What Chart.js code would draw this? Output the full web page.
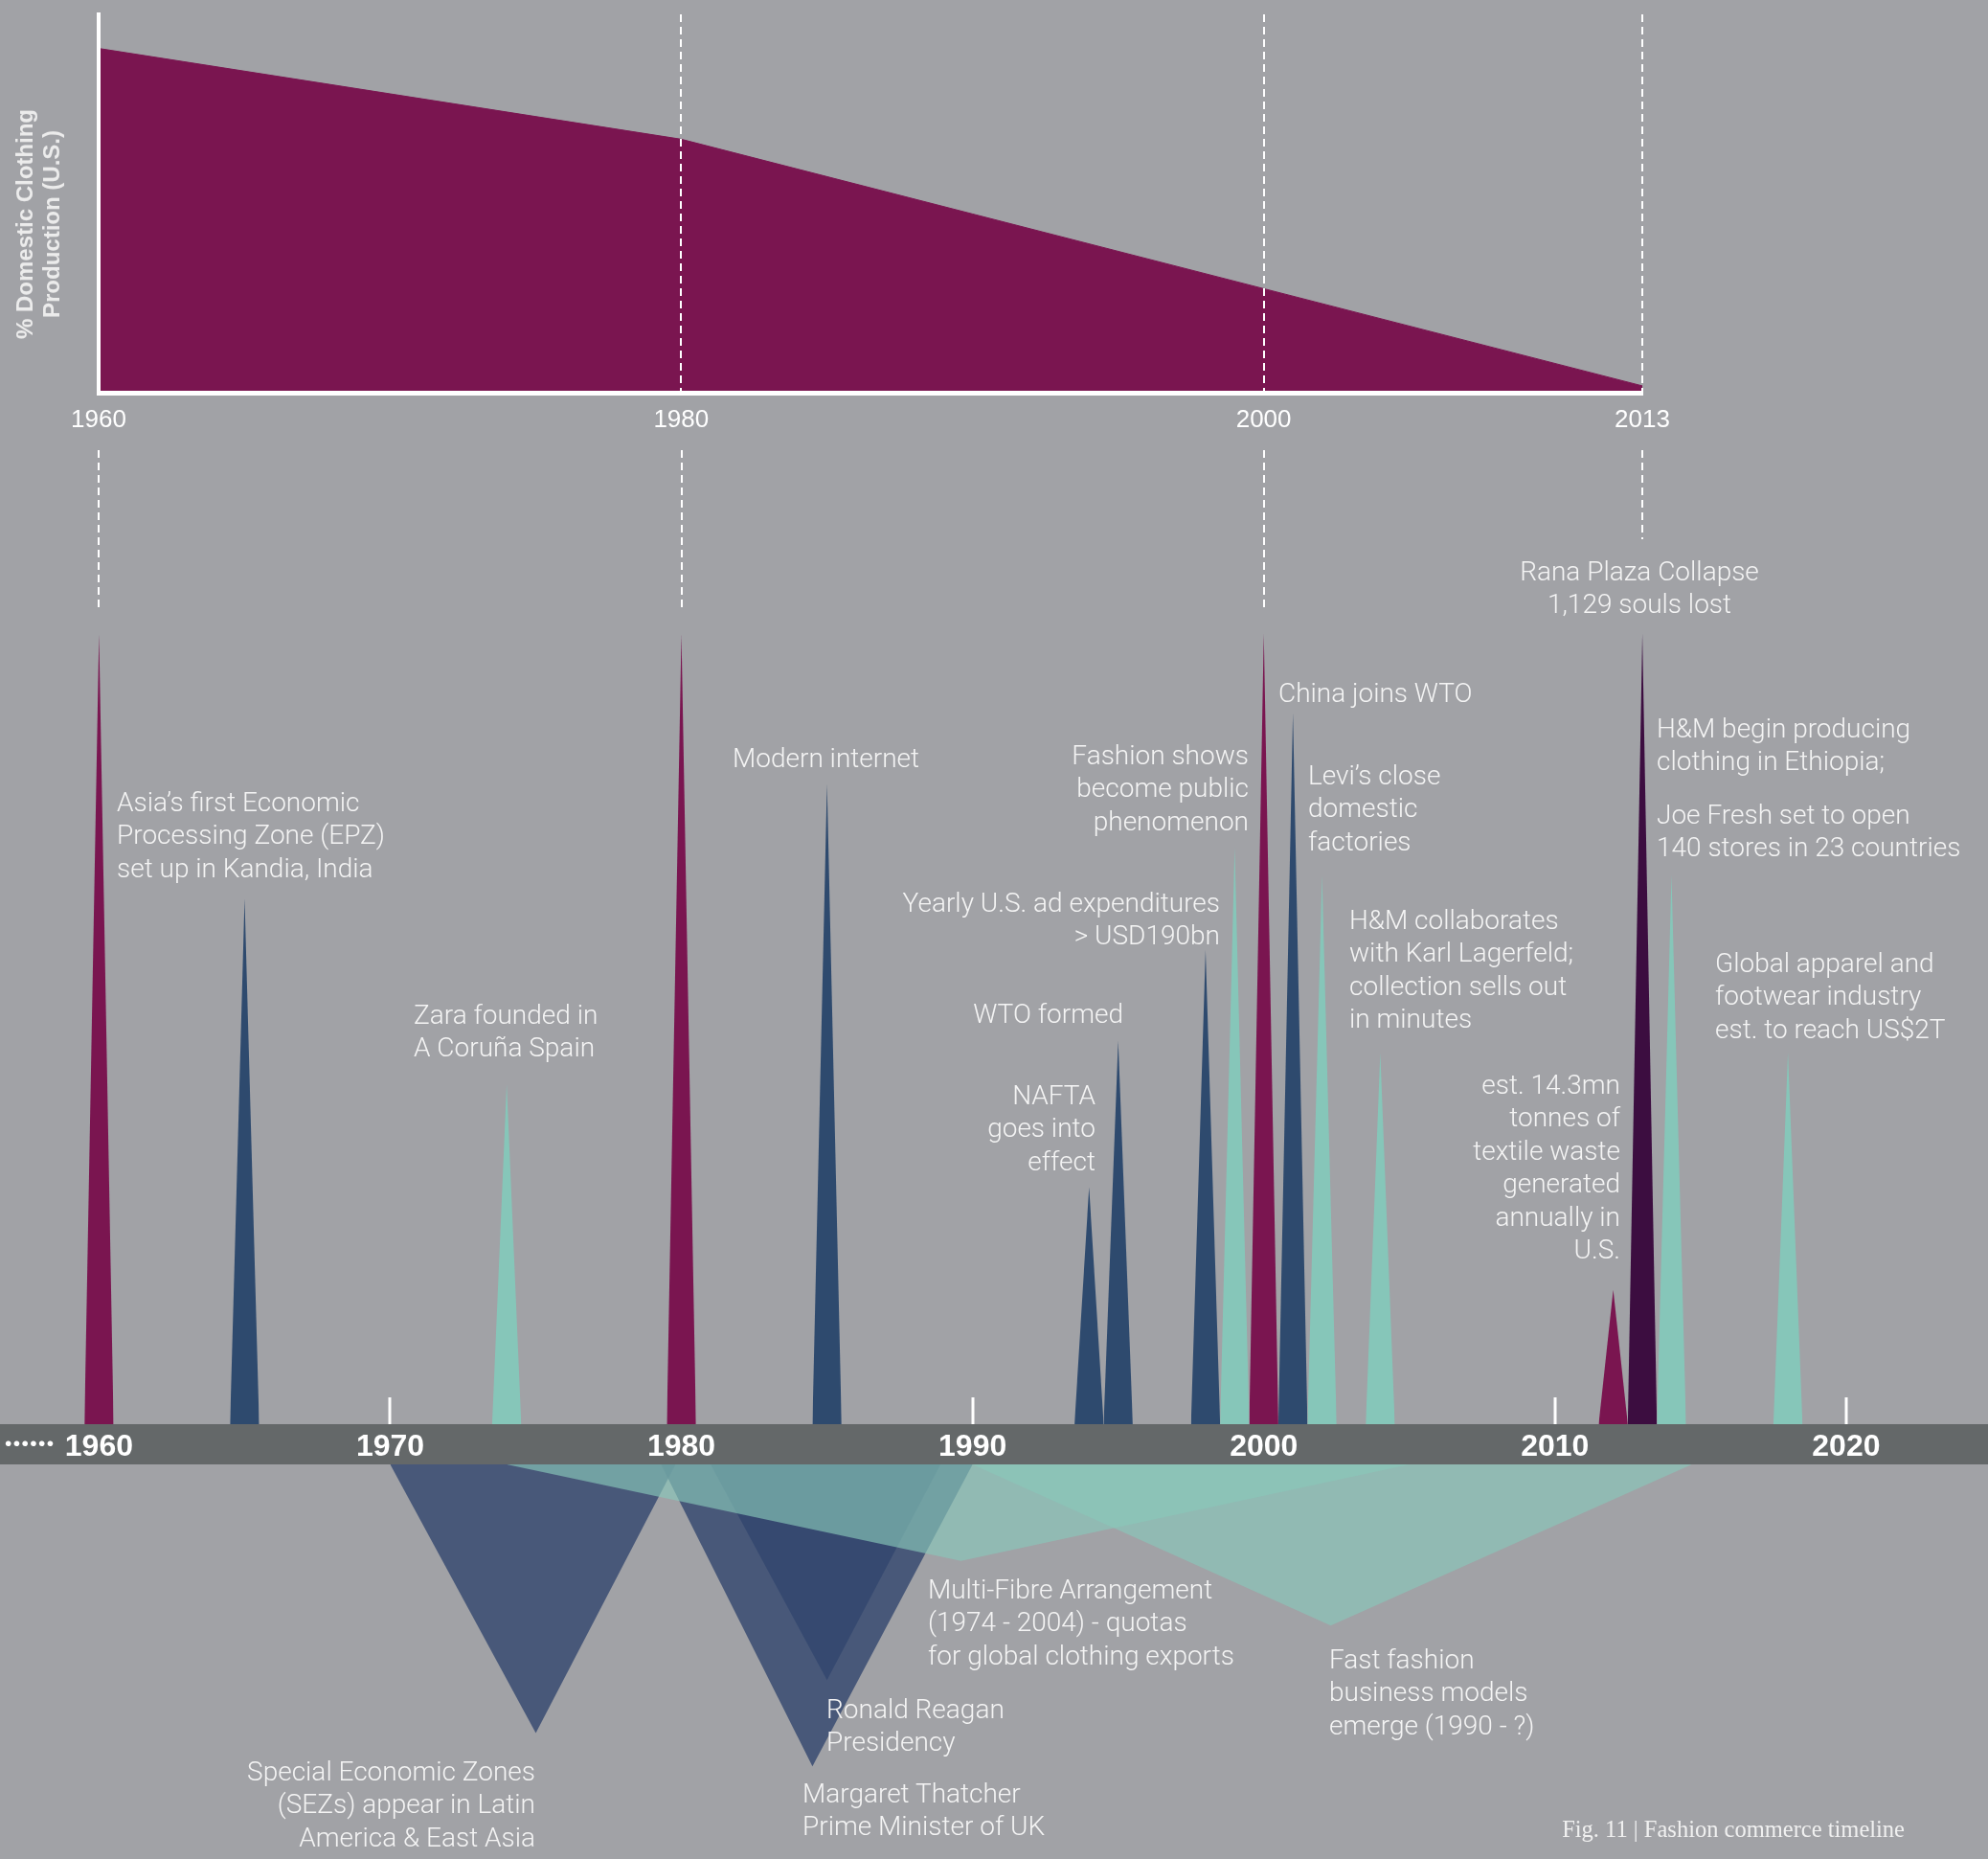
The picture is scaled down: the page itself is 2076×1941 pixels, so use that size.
<!DOCTYPE html>
<html>
<head>
<meta charset="utf-8">
<script src="https://cdn.jsdelivr.net/npm/chart.js@4.4.1/dist/chart.umd.min.js"></script>
<style>
  html,body{margin:0;padding:0;}
  body{width:2076px;height:1941px;background:#a1a2a6;position:relative;overflow:hidden;}
  .box{position:absolute;}
  .lbl{position:absolute;color:#f4f4f4;font-family:"Roboto","Liberation Sans",sans-serif;font-weight:300;font-size:28px;line-height:34.4px;white-space:nowrap;}
  #ytitle{position:absolute;left:12px;top:98px;height:272px;writing-mode:vertical-rl;transform:rotate(180deg);text-align:center;color:#ececec;font-family:"Liberation Sans",Arial,sans-serif;font-weight:bold;font-size:24px;line-height:28px;white-space:nowrap;}
  #dots{position:absolute;left:5px;top:1492px;color:#ffffff;font-family:"Liberation Sans",sans-serif;font-size:21px;letter-spacing:1.4px;line-height:30px;}
  #caption{position:absolute;right:87px;top:1895px;color:#f0f0f0;font-family:"Liberation Serif",serif;font-size:24.5px;line-height:30px;white-space:nowrap;}
</style>
</head>
<body>
<div class="box" style="left:0;top:0;width:2076px;height:470px;"><canvas id="topChart"></canvas></div>
<div class="box" style="left:0;top:470px;width:2076px;height:1471px;"><canvas id="timeline"></canvas></div>
<div id="ytitle">% Domestic Clothing<br>Production (U.S.)</div>
<div id="dots">••••••</div>
<div id="caption">Fig. 11 | Fashion commerce timeline</div>
<div id="labels"></div>
<script>
// ---------------- DATA ----------------
// Top chart: % domestic clothing production (U.S.)
const prodYears  = [1960, 1980, 2000, 2013];
const prodValues = [91, 67, 27.5, 1.8];
const topTickYears = [1960, 1980, 2000, 2013];

// Timeline events (upward spikes)
const eventYears   = [1960, 1965, 1974, 1980, 1985, 1994, 1995, 1998, 1999, 2000, 2001, 2002, 2004, 2012, 2013, 2014, 2018];
const eventHeights = [100,  66.5, 43,   100,  81,   30,   48.5, 60,   73,   100,  90,   69.5, 47,   17,   100,  69.5, 47];
const eventKinds   = ['maroon','navy','mint','maroon','navy','navy','navy','navy','mint','maroon','navy','mint','mint','maroon','purple','mint','mint'];

// Periods (downward triangles)
const periodNames = ['Special Economic Zones', 'Thatcher', 'Reagan', 'Multi-Fibre Arrangement', 'Fast fashion'];
const periodStart = [1970, 1979.3, 1981, 1974, 1990];
const periodPeak  = [1975, 1984.5, 1985, 1989.6, 2002.3];
const periodEnd   = [1979.8, 1990, 1988.9, 2005, 2014.7];
const periodDepth = [34.0, 38.2, 27.3, 12.2, 20.4];
const periodKinds = ['navy', 'navy', 'navy', 'mint', 'mint'];

const timelineTicks  = [1960, 1970, 1980, 1990, 2000, 2010, 2020];
const connectorYears = [1960, 1980, 2000, 2013];

const labelTexts = [
  ['Asia’s first Economic', 'Processing Zone (EPZ)', 'set up in Kandia, India'],
  ['Zara founded in', 'A Coruña Spain'],
  ['Modern internet'],
  ['Fashion shows', 'become public', 'phenomenon'],
  ['Yearly U.S. ad expenditures', '> USD190bn'],
  ['WTO formed'],
  ['NAFTA', 'goes into', 'effect'],
  ['China joins WTO'],
  ['Levi’s close', 'domestic', 'factories'],
  ['H&M collaborates', 'with Karl Lagerfeld;', 'collection sells out', 'in minutes'],
  ['Rana Plaza Collapse', '1,129 souls lost'],
  ['H&M begin producing', 'clothing in Ethiopia;'],
  ['Joe Fresh set to open', '140 stores in 23 countries'],
  ['est. 14.3mn', 'tonnes of', 'textile waste', 'generated', 'annually in', 'U.S.'],
  ['Global apparel and', 'footwear industry', 'est. to reach US$2T'],
  ['Multi-Fibre Arrangement', '(1974 - 2004) - quotas', 'for global clothing exports'],
  ['Fast fashion', 'business models', 'emerge (1990 - ?)'],
  ['Ronald Reagan', 'Presidency'],
  ['Margaret Thatcher', 'Prime Minister of UK'],
  ['Special Economic Zones', '(SEZs) appear in Latin', 'America & East Asia']
];

// ---------------- LAYOUT / STYLE ----------------
const labelLayout = [
  {x:122, y:821, a:'left'}, {x:432, y:1043, a:'left'}, {x:765, y:775, a:'left'},
  {x:1304, y:772, a:'right'}, {x:1274, y:926, a:'right'}, {x:1173, y:1042, a:'right'},
  {x:1144, y:1127, a:'right'}, {x:1335, y:707, a:'left'}, {x:1366, y:793, a:'left'},
  {x:1409, y:944, a:'left'}, {x:1712, y:580, a:'center'}, {x:1730, y:744, a:'left'},
  {x:1730, y:834, a:'left'}, {x:1692, y:1116, a:'right'}, {x:1791, y:989, a:'left'},
  {x:969, y:1643, a:'left'}, {x:1388, y:1716, a:'left'}, {x:863, y:1768, a:'left'},
  {x:838, y:1856, a:'left'}, {x:559, y:1833, a:'right'}
];
const palette = {
  maroon:'#7a1550', navy:'#2e4a6e', mint:'#86c6b9', purple:'#3c0d40',
  navyTri:'rgba(50,70,110,0.8)', mintTri:'rgba(136,200,186,0.65)'
};
const SPIKE_HALF = 0.5;      // years
const BAR_DEPTH = 5.09;      // y units (bar thickness)
const CONNECTOR_LEN = [166, 166, 166, 93];
const PAGE_W = 2076;

// ---------------- LABELS ----------------
const lblHost = document.getElementById('labels');
labelTexts.forEach((lines, i) => {
  const L = labelLayout[i];
  const d = document.createElement('div');
  d.className = 'lbl';
  d.innerHTML = lines.map(s => s.replace(/&/g,'&amp;').replace(/>/g,'&gt;')).join('<br>');
  d.style.top = L.y + 'px';
  if (L.a === 'left') { d.style.left = L.x + 'px'; d.style.textAlign = 'left'; }
  else if (L.a === 'right') { d.style.right = (PAGE_W - L.x) + 'px'; d.style.textAlign = 'right'; }
  else { d.style.left = L.x + 'px'; d.style.transform = 'translateX(-50%)'; d.style.textAlign = 'center'; }
  lblHost.appendChild(d);
});

// ---------------- TOP CHART ----------------
new Chart(document.getElementById('topChart'), {
  type: 'line',
  data: {
    datasets: [{
      data: prodYears.map((y, i) => ({x: y, y: prodValues[i]})),
      fill: 'origin',
      backgroundColor: palette.maroon,
      borderColor: palette.maroon,
      borderWidth: 1,
      pointRadius: 0,
      tension: 0
    }]
  },
  options: {
    responsive: true, maintainAspectRatio: false, animation: false,
    layout: {padding: {left: 0, right: 361, top: 15, bottom: 0}},
    plugins: {legend: {display: false}, tooltip: {enabled: false}},
    scales: {
      x: {
        type: 'linear', min: 1960, max: 2013,
        afterBuildTicks: s => { s.ticks = topTickYears.map(v => ({value: v})); },
        afterFit: s => { s.height = 60; },
        grid: {display: true, drawTicks: false, drawOnChartArea: true, color: '#ffffff', lineWidth: 2, z: 1},
        border: {display: true, color: '#ffffff', width: 5, dash: [8, 5], z: 1},
        ticks: {color: '#ffffff', padding: 16, autoSkip: false, maxRotation: 0, z: 1,
                font: {family: '"Liberation Sans", Arial, sans-serif', size: 26, lineHeight: 1},
                callback: v => String(v)}
      },
      y: {
        min: 0, max: 100,
        afterFit: s => { s.width = 103; },
        grid: {display: false},
        border: {display: true, color: '#ffffff', width: 4, z: 1},
        ticks: {display: false}
      }
    }
  }
});

// ---------------- TIMELINE CHART ----------------
const spikeSets = eventYears.map((yr, i) => ({
  data: [{x: yr - SPIKE_HALF, y: 0}, {x: yr, y: eventHeights[i]}, {x: yr + SPIKE_HALF, y: 0}],
  fill: 'origin',
  backgroundColor: palette[eventKinds[i]],
  borderColor: 'rgba(0,0,0,0)', borderWidth: 0, pointRadius: 0, tension: 0, order: 3
}));
const periodSets = periodNames.map((name, i) => ({
  label: name,
  data: [{x: periodStart[i], y: -BAR_DEPTH}, {x: periodPeak[i], y: -BAR_DEPTH - periodDepth[i]}, {x: periodEnd[i], y: -BAR_DEPTH}],
  fill: {value: -BAR_DEPTH},
  backgroundColor: periodKinds[i] === 'mint' ? palette.mintTri : palette.navyTri,
  borderColor: 'rgba(0,0,0,0)', borderWidth: 0, pointRadius: 0, tension: 0,
  order: periodKinds[i] === 'mint' ? 1 : 2
}));

const timelineDecor = {
  id: 'timelineDecor',
  beforeDatasetsDraw(chart) {
    const {ctx, scales: {x, y}} = chart;
    const y0 = y.getPixelForValue(0), y1 = y.getPixelForValue(-BAR_DEPTH);
    ctx.save();
    // axis band
    ctx.fillStyle = '#646869';
    ctx.fillRect(0, y0, chart.width, y1 - y0);
    // small white ticks above band
    ctx.strokeStyle = '#ffffff'; ctx.lineWidth = 3;
    timelineTicks.forEach(v => {
      const px = Math.round(x.getPixelForValue(v));
      ctx.beginPath(); ctx.moveTo(px, y0 - 28); ctx.lineTo(px, y0); ctx.stroke();
    });
    // dashed connectors to top chart
    ctx.lineWidth = 2; ctx.setLineDash([8, 5]);
    connectorYears.forEach((v, i) => {
      const px = Math.round(x.getPixelForValue(v));
      ctx.beginPath(); ctx.moveTo(px, 0); ctx.lineTo(px, CONNECTOR_LEN[i]); ctx.stroke();
    });
    ctx.restore();
  }
};

new Chart(document.getElementById('timeline'), {
  type: 'line',
  data: {datasets: periodSets.concat(spikeSets)},
  options: {
    responsive: true, maintainAspectRatio: false, animation: false,
    layout: {padding: 0},
    plugins: {legend: {display: false}, tooltip: {enabled: false}},
    scales: {
      x: {
        type: 'linear', min: 1956.6, max: 2024.87,
        position: {y: 0},
        afterBuildTicks: s => { s.ticks = timelineTicks.map(v => ({value: v})); },
        grid: {display: false, drawTicks: false},
        border: {display: false},
        ticks: {color: '#ffffff', padding: 8, autoSkip: false, maxRotation: 0, z: 2,
                font: {family: '"Liberation Sans", Arial, sans-serif', size: 32, weight: 'bold', lineHeight: 1},
                callback: v => String(v)}
      },
      y: {min: -55.03, max: 123.27, display: false}
    }
  },
  plugins: [timelineDecor]
});
</script>
</body>
</html>
